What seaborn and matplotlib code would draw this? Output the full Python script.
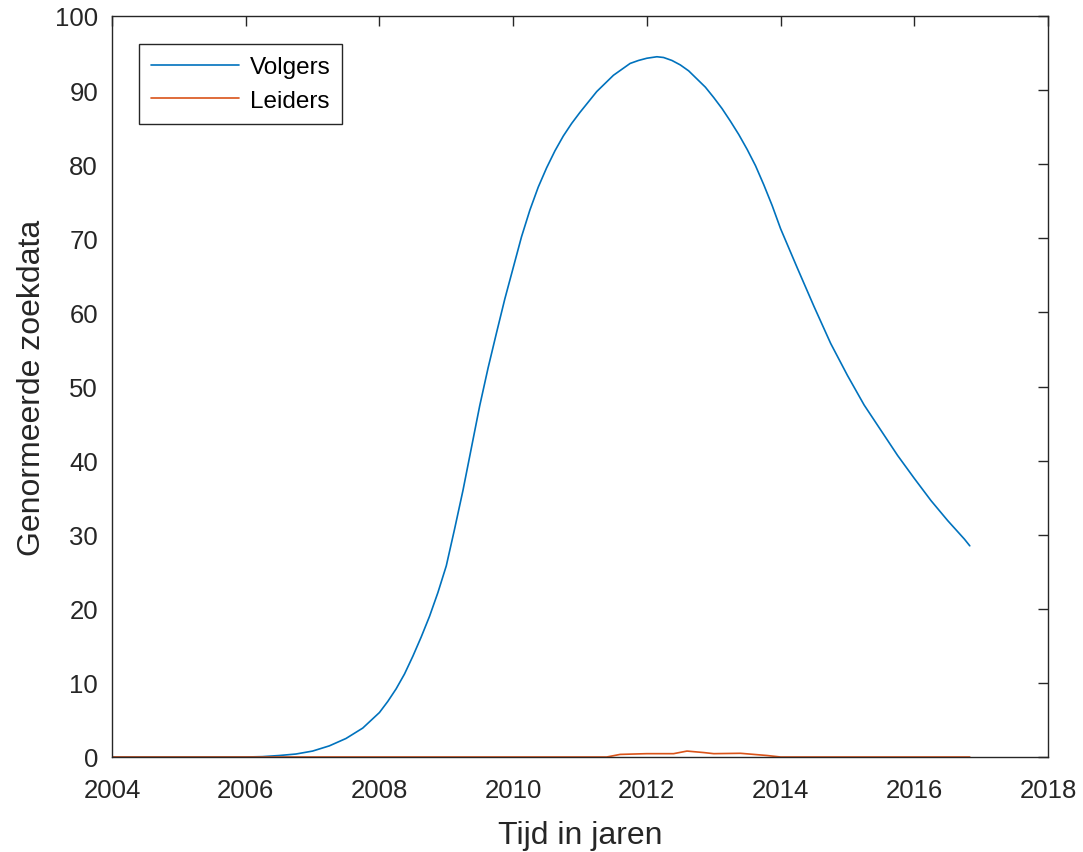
import numpy as np
import pandas as pd
import matplotlib
matplotlib.use("Agg")
import matplotlib.pyplot as plt
import seaborn as sns

# --- data ---
volgers_years = [2004.0, 2004.5, 2005.0, 2005.5, 2006.0, 2006.25, 2006.5, 2006.75,
                 2007.0, 2007.25, 2007.5, 2007.75, 2008.0, 2008.125, 2008.25, 2008.375,
                 2008.5, 2008.625, 2008.75, 2008.875, 2009.0, 2009.125, 2009.25, 2009.375,
                 2009.5, 2009.625, 2009.75, 2009.875, 2010.0, 2010.125, 2010.25, 2010.375,
                 2010.5, 2010.625, 2010.75, 2010.875, 2011.0, 2011.25, 2011.5, 2011.75,
                 2011.875, 2012.0, 2012.15, 2012.25, 2012.375, 2012.5, 2012.625, 2012.75,
                 2012.875, 2013.0, 2013.125, 2013.25, 2013.375, 2013.5, 2013.625, 2013.75,
                 2013.875, 2014.0, 2014.25, 2014.5, 2014.75, 2015.0, 2015.25, 2015.5,
                 2015.75, 2016.0, 2016.25, 2016.5, 2016.75, 2016.83]
volgers_vals = [0.0, 0.0, 0.0, 0.0, 0.0, 0.05, 0.2, 0.4,
                0.8, 1.5, 2.5, 3.9, 6.0, 7.5, 9.2, 11.2,
                13.6, 16.2, 19.0, 22.2, 25.8, 30.8, 36.0, 41.7,
                47.4, 52.5, 57.2, 61.8, 66.0, 70.2, 73.8, 76.9,
                79.5, 81.8, 83.8, 85.5, 87.0, 89.8, 92.0, 93.6,
                94.0, 94.3, 94.5, 94.4, 94.0, 93.4, 92.6, 91.5,
                90.4, 89.0, 87.5, 85.8, 84.0, 82.0, 79.8, 77.2,
                74.4, 71.3, 66.0, 60.8, 55.8, 51.5, 47.5, 44.1,
                40.7, 37.6, 34.6, 31.9, 29.4, 28.5]

leiders_years = [2004.0, 2006.0, 2008.0, 2010.0, 2011.0, 2011.4, 2011.6, 2012.0,
                 2012.4, 2012.6, 2012.85, 2013.0, 2013.4, 2013.8, 2014.0, 2015.0,
                 2016.0, 2016.83]
leiders_vals = [0.0, 0.0, 0.0, 0.0, 0.0, 0.0, 0.35, 0.45,
                0.45, 0.8, 0.6, 0.45, 0.5, 0.2, 0.0, 0.0,
                0.0, 0.0]

series_names = ["Volgers", "Leiders"]
x_ticks = [2004, 2006, 2008, 2010, 2012, 2014, 2016, 2018]
y_ticks = [0, 10, 20, 30, 40, 50, 60, 70, 80, 90, 100]

df = pd.concat([
    pd.DataFrame({"jaar": volgers_years, "waarde": volgers_vals, "reeks": series_names[0]}),
    pd.DataFrame({"jaar": leiders_years, "waarde": leiders_vals, "reeks": series_names[1]}),
], ignore_index=True)

sns.set_style("white")
plt.rcParams["font.family"] = ["Liberation Sans", "DejaVu Sans"]

fig = plt.figure(figsize=(10.83, 8.53), dpi=100)
ax = fig.add_axes([112 / 1083, 1 - 758 / 853, (1048 - 112) / 1083, (758 - 17) / 853])

palette = {"Volgers": "#0072BD", "Leiders": "#D95319"}
sns.lineplot(data=df, x="jaar", y="waarde", hue="reeks", palette=palette,
             hue_order=series_names, linewidth=1.2, ax=ax, estimator=None, sort=True)

ax.set_xlim(2004, 2018)
ax.set_ylim(0, 100)
ax.set_xticks(x_ticks)
ax.set_yticks(y_ticks)
ax.set_xticklabels([str(t) for t in x_ticks])
ax.set_yticklabels([str(t) for t in y_ticks])

txt = "#262626"
ax.tick_params(direction="in", length=7, width=1.0, color="#262626",
               top=True, right=True, labelsize=18.5, labelcolor=txt)
ax.tick_params(axis="x", pad=15)
ax.tick_params(axis="y", pad=10)
for s in ax.spines.values():
    s.set_visible(True)
    s.set_color("#262626")
    s.set_linewidth(1.0)

ax.set_xlabel("Tijd in jaren", fontsize=23, color=txt, labelpad=13)
ax.set_ylabel("Genormeerde zoekdata", fontsize=23, color=txt, labelpad=6)

leg = ax.legend(loc="upper left", bbox_to_anchor=(0.0288, 0.9622), fontsize=17.5,
                frameon=True, fancybox=False, edgecolor="#262626", framealpha=1,
                handlelength=3.6, handletextpad=0.45, borderpad=0.5, labelspacing=0.48,
                borderaxespad=0)
leg.get_frame().set_linewidth(1.0)
for t in leg.get_texts():
    t.set_color("black")
ax.grid(False)

fig.savefig("out.png", dpi=100, facecolor="white")
